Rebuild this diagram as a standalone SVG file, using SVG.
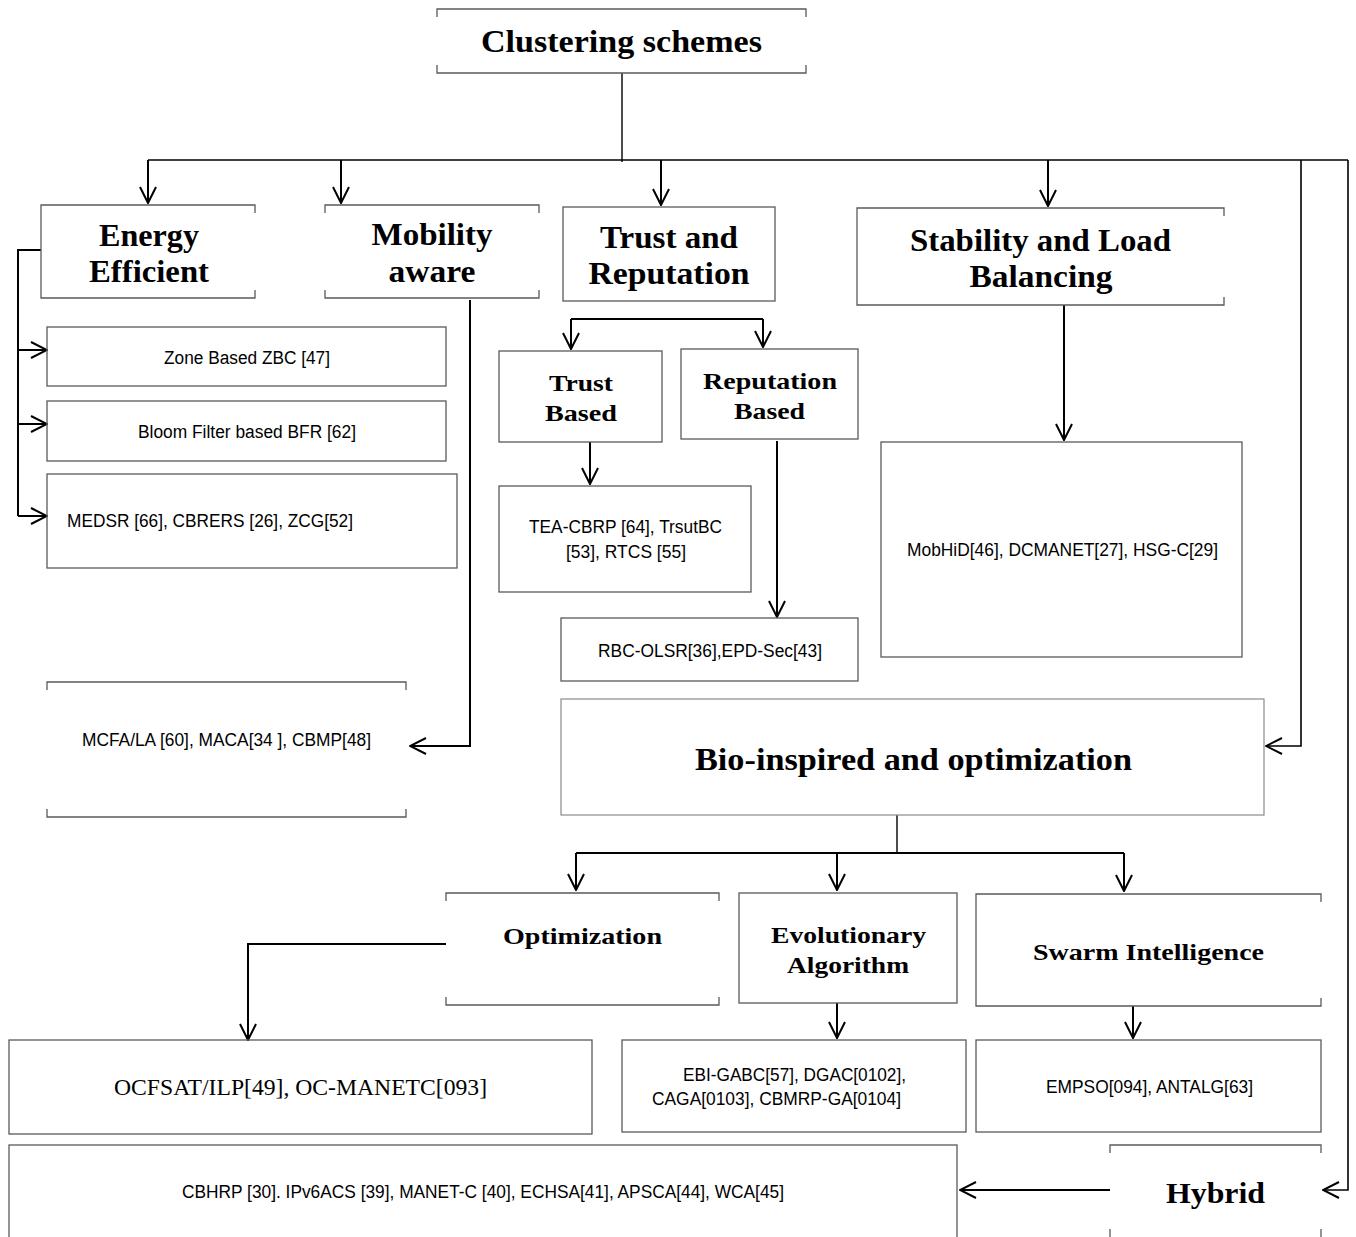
<svg xmlns="http://www.w3.org/2000/svg" width="1356" height="1237" viewBox="0 0 1356 1237">
<style>
.bx{fill:none;stroke:#5a5a5a;stroke-width:1.3}
.bl{fill:none;stroke:#8a8a8a;stroke-width:1.2}
.cn{fill:none;stroke:#000;stroke-width:2}
.h{font-family:"Liberation Serif","Times New Roman",serif;font-weight:bold;fill:#000;text-anchor:middle}
.t{font-family:"Liberation Sans",Arial,sans-serif;font-size:18px;fill:#000;text-anchor:middle}
.s{font-family:"Liberation Serif","Times New Roman",serif;font-size:23px;fill:#000;text-anchor:middle}
</style>
<defs>
<marker id="ah" viewBox="0 0 18 18" refX="17" refY="9" markerWidth="18" markerHeight="18" markerUnits="userSpaceOnUse" orient="auto">
<path d="M1,1 L17,9 L1,17" fill="none" stroke="#000" stroke-width="2"/>
</marker>
</defs>

<g id="connectors">
<path class="cn" style="stroke-width:1.4" d="M622,73 V162"/>
<path class="cn" style="stroke-width:1.6" d="M148,160 H1348"/>
<path class="cn" d="M148,160 V203" marker-end="url(#ah)"/>
<path class="cn" d="M341,160 V203" marker-end="url(#ah)"/>
<path class="cn" d="M661,160 V205" marker-end="url(#ah)"/>
<path class="cn" d="M1048,160 V206" marker-end="url(#ah)"/>
<path class="cn" style="stroke-width:1.6" d="M1301,160 V746 H1266" marker-end="url(#ah)"/>
<path class="cn" style="stroke-width:1.6" d="M1348,160 V1190 H1323" marker-end="url(#ah)"/>
<path class="cn" d="M41,250 H18 V516"/>
<path class="cn" d="M18,350 H47" marker-end="url(#ah)"/>
<path class="cn" d="M18,424 H47" marker-end="url(#ah)"/>
<path class="cn" d="M18,516 H47" marker-end="url(#ah)"/>
<path class="cn" d="M470,300 V746 H410" marker-end="url(#ah)"/>
<path class="cn" d="M571,319 H763"/>
<path class="cn" d="M571,319 V349" marker-end="url(#ah)"/>
<path class="cn" d="M763,319 V347" marker-end="url(#ah)"/>
<path class="cn" d="M590,442 V484" marker-end="url(#ah)"/>
<path class="cn" d="M777,441 V617" marker-end="url(#ah)"/>
<path class="cn" d="M1064,305 V440" marker-end="url(#ah)"/>
<path class="cn" style="stroke-width:1.4" d="M897,815 V853"/>
<path class="cn" d="M576,853 H1124"/>
<path class="cn" d="M576,853 V890" marker-end="url(#ah)"/>
<path class="cn" d="M837,853 V890" marker-end="url(#ah)"/>
<path class="cn" d="M1124,853 V891" marker-end="url(#ah)"/>
<path class="cn" d="M446,944 H248 V1040" marker-end="url(#ah)"/>
<path class="cn" d="M837,1003 V1038" marker-end="url(#ah)"/>
<path class="cn" d="M1133,1006 V1038" marker-end="url(#ah)"/>
<path class="cn" d="M1110,1190 H960" marker-end="url(#ah)"/>
</g>

<g id="clustering">
<path class="bx" d="M437,17 V9 H806 V17 M437,65 V73 H806 V65"/>
<text class="h" x="621.5" y="52" font-size="31" textLength="281" lengthAdjust="spacingAndGlyphs">Clustering schemes</text>
</g>

<g id="energy">
<path class="bx" d="M255,213 V205 H41 V298 H255 V290"/>
<text class="h" x="149" y="246" font-size="31" textLength="100" lengthAdjust="spacingAndGlyphs">Energy</text>
<text class="h" x="149" y="282" font-size="31" textLength="120" lengthAdjust="spacingAndGlyphs">Efficient</text>
</g>

<g id="mobility">
<path class="bx" d="M325,213 V205 H539 V213 M325,290 V298 H539 V290"/>
<text class="h" x="432" y="245" font-size="31" textLength="121" lengthAdjust="spacingAndGlyphs">Mobility</text>
<text class="h" x="432" y="282" font-size="31" textLength="87" lengthAdjust="spacingAndGlyphs">aware</text>
</g>

<g id="trustrep">
<rect class="bx" x="563" y="207" width="212" height="94"/>
<text class="h" x="669" y="248" font-size="31" textLength="138" lengthAdjust="spacingAndGlyphs">Trust and</text>
<text class="h" x="669" y="284" font-size="31" textLength="161" lengthAdjust="spacingAndGlyphs">Reputation</text>
</g>

<g id="stability">
<path class="bx" d="M1224,216 V208 H857 V305 H1224 V297"/>
<text class="h" x="1040.5" y="251" font-size="31" textLength="261" lengthAdjust="spacingAndGlyphs">Stability and Load</text>
<text class="h" x="1041" y="287" font-size="31" textLength="143" lengthAdjust="spacingAndGlyphs">Balancing</text>
</g>

<g id="zone">
<rect class="bx" x="47" y="327" width="399" height="59"/>
<text class="t" x="247" y="364" textLength="166" lengthAdjust="spacingAndGlyphs">Zone Based ZBC [47]</text>
</g>

<g id="bloom">
<rect class="bx" x="47" y="401" width="399" height="60"/>
<text class="t" x="247" y="438" textLength="218" lengthAdjust="spacingAndGlyphs">Bloom Filter based BFR [62]</text>
</g>

<g id="medsr">
<rect class="bx" x="47" y="474" width="410" height="94"/>
<text class="t" x="67" y="527" style="text-anchor:start" textLength="286" lengthAdjust="spacingAndGlyphs">MEDSR [66], CBRERS [26], ZCG[52]</text>
</g>

<g id="trustbased">
<rect class="bx" x="499" y="351" width="163" height="91"/>
<text class="h" x="581" y="391" font-size="24" textLength="64" lengthAdjust="spacingAndGlyphs">Trust</text>
<text class="h" x="581" y="421" font-size="24" textLength="72" lengthAdjust="spacingAndGlyphs">Based</text>
</g>

<g id="repbased">
<rect class="bx" x="681" y="349" width="177" height="90"/>
<text class="h" x="770" y="389" font-size="24" textLength="134" lengthAdjust="spacingAndGlyphs">Reputation</text>
<text class="h" x="769.5" y="419" font-size="24" textLength="71" lengthAdjust="spacingAndGlyphs">Based</text>
</g>

<g id="tea">
<rect class="bx" x="499" y="486" width="252" height="106"/>
<text class="t" x="625.5" y="533" textLength="193" lengthAdjust="spacingAndGlyphs">TEA-CBRP [64], TrsutBC</text>
<text class="t" x="626" y="558" textLength="120" lengthAdjust="spacingAndGlyphs">[53], RTCS [55]</text>
</g>

<g id="rbc">
<rect class="bx" x="561" y="618" width="297" height="63"/>
<text class="t" x="710" y="657" textLength="224" lengthAdjust="spacingAndGlyphs">RBC-OLSR[36],EPD-Sec[43]</text>
</g>

<g id="mobhid">
<rect class="bx" x="881" y="442" width="361" height="215"/>
<text class="t" x="1062.5" y="556" textLength="311" lengthAdjust="spacingAndGlyphs">MobHiD[46], DCMANET[27], HSG-C[29]</text>
</g>

<g id="mcfa">
<path class="bx" d="M47,690 V682 H406 V690 M47,809 V817 H406 V809"/>
<text class="t" x="226.5" y="746" textLength="289" lengthAdjust="spacingAndGlyphs">MCFA/LA [60], MACA[34 ], CBMP[48]</text>
</g>

<g id="bio">
<rect class="bl" x="561" y="699" width="703" height="116"/>
<text class="h" x="913.5" y="770" font-size="32" textLength="437" lengthAdjust="spacingAndGlyphs">Bio-inspired and optimization</text>
</g>

<g id="optimization">
<path class="bx" d="M446,901 V893 H719 V901 M446,997 V1005 H719 V997"/>
<text class="h" x="582.5" y="944" font-size="24" textLength="159" lengthAdjust="spacingAndGlyphs">Optimization</text>
</g>

<g id="evolutionary">
<rect class="bx" x="739" y="893" width="218" height="110"/>
<text class="h" x="848.5" y="943" font-size="24" textLength="155" lengthAdjust="spacingAndGlyphs">Evolutionary</text>
<text class="h" x="848" y="973" font-size="24" textLength="122" lengthAdjust="spacingAndGlyphs">Algorithm</text>
</g>

<g id="swarm">
<path class="bx" d="M1321,902 V894 H976 V1006 H1321 V998"/>
<text class="h" x="1148.5" y="960" font-size="24" textLength="231" lengthAdjust="spacingAndGlyphs">Swarm Intelligence</text>
</g>

<g id="ocfsat">
<rect class="bx" x="9" y="1040" width="583" height="94"/>
<text class="s" x="300.5" y="1095" textLength="373" lengthAdjust="spacingAndGlyphs">OCFSAT/ILP[49], OC-MANETC[093]</text>
</g>

<g id="ebi">
<rect class="bx" x="622" y="1040" width="344" height="92"/>
<text class="t" x="794.5" y="1081" textLength="223" lengthAdjust="spacingAndGlyphs">EBI-GABC[57], DGAC[0102],</text>
<text class="t" x="776.5" y="1105" textLength="249" lengthAdjust="spacingAndGlyphs">CAGA[0103], CBMRP-GA[0104]</text>
</g>

<g id="empso">
<rect class="bx" x="976" y="1040" width="345" height="92"/>
<text class="t" x="1149.5" y="1093" textLength="207" lengthAdjust="spacingAndGlyphs">EMPSO[094], ANTALG[63]</text>
</g>

<g id="cbhrp">
<rect class="bx" x="9" y="1145" width="948" height="100"/>
<text class="t" x="483" y="1198" textLength="602" lengthAdjust="spacingAndGlyphs">CBHRP [30]. IPv6ACS [39], MANET-C [40], ECHSA[41], APSCA[44], WCA[45]</text>
</g>

<g id="hybrid">
<path class="bx" d="M1110,1153 V1145 H1321 V1153 M1110,1229 V1240 M1321,1229 V1240"/>
<text class="h" x="1215.5" y="1203" font-size="30" textLength="99" lengthAdjust="spacingAndGlyphs">Hybrid</text>
</g>
</svg>
